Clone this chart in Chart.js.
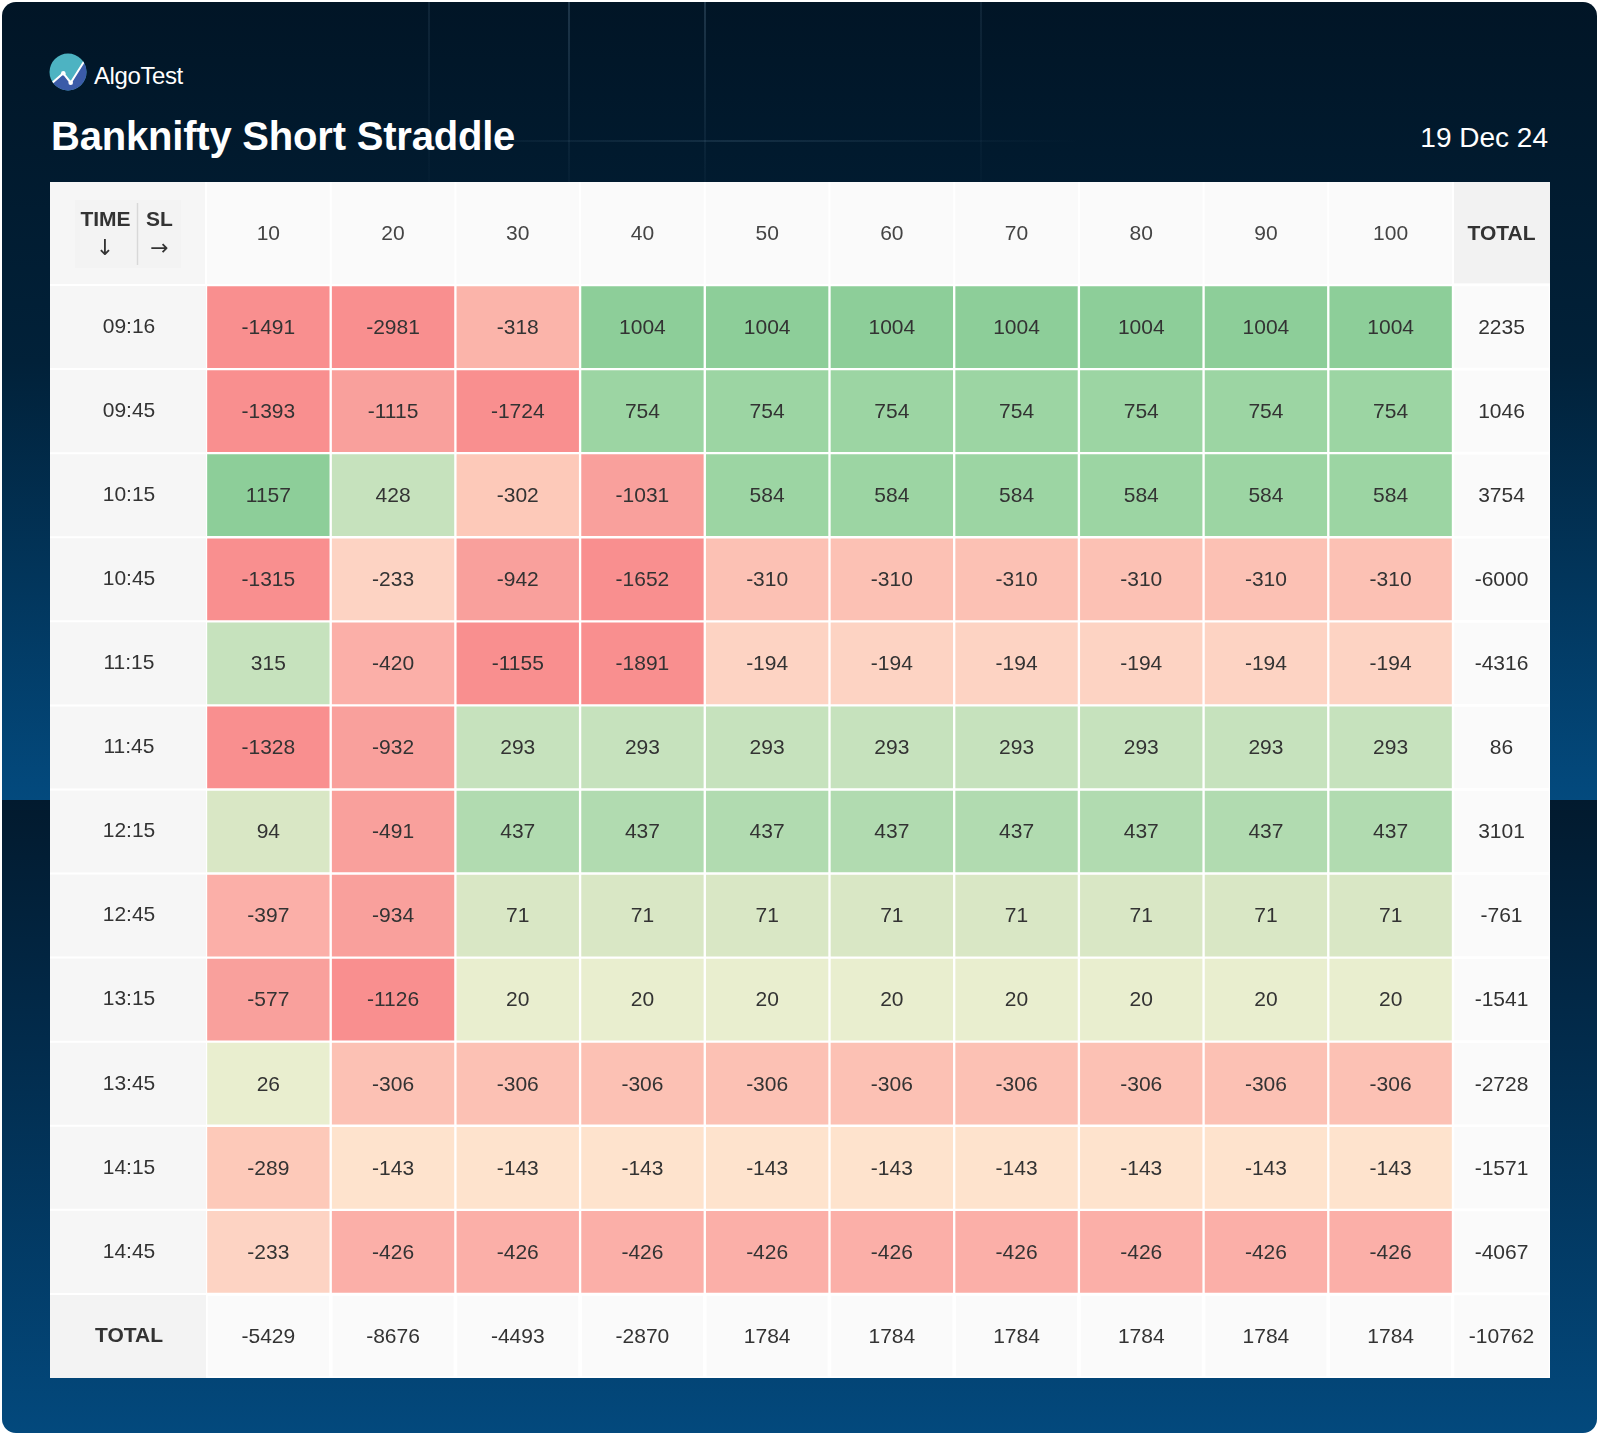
<!DOCTYPE html>
<html>
<head>
<meta charset="utf-8">
<script src="https://cdn.jsdelivr.net/npm/chart.js@4.4.1/dist/chart.umd.min.js"></script>
<style>
  html, body { margin: 0; padding: 0; background: #fff; }
  body { width: 1600px; height: 1436px; position: relative; overflow: hidden;
         font-family: "Liberation Sans", Arial, Helvetica, sans-serif; }
  #card { position: absolute; left: 2px; top: 2px; width: 1595px; height: 1431px;
          border-radius: 14px; overflow: hidden;
          background:
            linear-gradient(180deg, #011526 0%, #012139 45%, #034a7e 100%) 0 0 / 100% 798px no-repeat,
            linear-gradient(180deg, #021a2e 0%, #022c4d 40%, #03497d 100%) 0 798px / 100% 633px no-repeat; }
  .vline { position: absolute; top: 0; width: 2px; height: 190px;
           background: linear-gradient(180deg, rgba(160,200,230,0.18), rgba(160,200,230,0.02)); }
  .hline { position: absolute; height: 2px;
           background: linear-gradient(90deg, rgba(160,200,230,0), rgba(160,200,230,0.12), rgba(160,200,230,0)); }
  #logo { position: absolute; left: 48px; top: 52px; width: 40px; height: 40px; }
  #brand { position: absolute; left: 94px; top: 64px; font-size: 24px; line-height: 24px; color: #fff;
           letter-spacing: -0.4px; }
  #title { position: absolute; left: 51px; top: 116px; font-size: 40px; line-height: 40px;
           font-weight: bold; color: #fff; letter-spacing: -0.2px; }
  #date { position: absolute; right: 52px; top: 124px; font-size: 28px; line-height: 28px; color: #fff; }
  #wrap { position: absolute; left: 50px; top: 182px; width: 1500px; height: 1196px; background: #fafafa; }
</style>
</head>
<body>
<div id="card">
  <div class="vline" style="left:426px;opacity:0.5"></div>
  <div class="vline" style="left:566px"></div>
  <div class="vline" style="left:702px"></div>
  <div class="vline" style="left:978px;opacity:0.5"></div>
  <div class="hline" style="left:380px;top:138px;width:700px"></div>
</div>
<svg id="logo" viewBox="0 0 40 40">
  <defs><clipPath id="c"><circle cx="20" cy="20" r="18.5"/></clipPath></defs>
  <g clip-path="url(#c)">
    <rect x="0" y="0" width="40" height="40" fill="#4db3c2"/>
    <path d="M0,33 L3.7,31.3 L15.3,21.3 L22.7,30.7 L37,8 L40,4 L40,40 L0,40 Z" fill="#3b5ba8"/>
    <polyline points="0,33 3.7,31.3 15.3,21.3 22.7,30.7 37,8 40,4" fill="none" stroke="#fff" stroke-width="2"/>
    <circle cx="15.3" cy="21.3" r="2.3" fill="#fff"/>
    <circle cx="22.7" cy="30.7" r="2.3" fill="#fff"/>
  </g>
</svg>
<div id="brand">AlgoTest</div>
<div id="title">Banknifty Short Straddle</div>
<div id="date">19 Dec 24</div>
<div id="wrap"><canvas id="heat" width="1500" height="1196"></canvas></div>

<script>
// Filas (hora de entrada) y columnas (SL %)
const times = ['09:16', '09:45', '10:15', '10:45', '11:15', '11:45', '12:15', '12:45', '13:15', '13:45', '14:15', '14:45'];
const slLevels = [10, 20, 30, 40, 50, 60, 70, 80, 90, 100];

// P&L por hora, una lista por fila
const r0916 = [-1491, -2981, -318, 1004, 1004, 1004, 1004, 1004, 1004, 1004];
const r0945 = [-1393, -1115, -1724, 754, 754, 754, 754, 754, 754, 754];
const r1015 = [1157, 428, -302, -1031, 584, 584, 584, 584, 584, 584];
const r1045 = [-1315, -233, -942, -1652, -310, -310, -310, -310, -310, -310];
const r1115 = [315, -420, -1155, -1891, -194, -194, -194, -194, -194, -194];
const r1145 = [-1328, -932, 293, 293, 293, 293, 293, 293, 293, 293];
const r1215 = [94, -491, 437, 437, 437, 437, 437, 437, 437, 437];
const r1245 = [-397, -934, 71, 71, 71, 71, 71, 71, 71, 71];
const r1315 = [-577, -1126, 20, 20, 20, 20, 20, 20, 20, 20];
const r1345 = [26, -306, -306, -306, -306, -306, -306, -306, -306, -306];
const r1415 = [-289, -143, -143, -143, -143, -143, -143, -143, -143, -143];
const r1445 = [-233, -426, -426, -426, -426, -426, -426, -426, -426, -426];
const pnlRows = [r0916, r0945, r1015, r1045, r1115, r1145, r1215, r1245, r1315, r1345, r1415, r1445];

// Totales
const rowTotals = [2235, 1046, 3754, -6000, -4316, 86, 3101, -761, -1541, -2728, -1571, -4067];
const colTotals = [-5429, -8676, -4493, -2870, 1784, 1784, 1784, 1784, 1784, 1784];
const grandTotal = -10762;

const totalLabel = 'TOTAL';
const rowLabels = times.concat([totalLabel]);
const headerLabels = slLevels.map(String).concat([totalLabel]);

// ancho relativo de la columna TOTAL
const TOTAL_W = 0.778;
const FONT = '"Liberation Sans", Arial, Helvetica, sans-serif';

// escala de colores (rojo = pérdida, verde = ganancia)
function cellColor(v) {
    if (v <= -1120) return '#f98f8f';
    if (v <= -450) return '#f9a09c';
    if (v <= -390) return '#fbafa8';
    if (v <= -315) return '#fbb4aa';
    if (v <= -304) return '#fcc1b4';
    if (v <= -250) return '#fdc9b9';
    if (v <= -180) return '#fdd3c3';
    if (v < 0) return '#fee3cd';
    if (v <= 30) return '#e9eecf';
    if (v <= 100) return '#d9e7c5';
    if (v <= 430) return '#c6e2bd';
    if (v <= 500) return '#b1dbb0';
    if (v <= 800) return '#9cd5a3';
    return '#8dce99';
}

const clear = 'rgba(0,0,0,0)';

let datasets = slLevels.map((sl, j) => ({
    label: 'SL ' + sl,
    data: rowLabels.map(() => [j, j + 1]),
    values: pnlRows.map(r => r[j]).concat([colTotals[j]]),
    backgroundColor: pnlRows.map(r => cellColor(r[j])).concat([clear]),
    borderColor: '#ffffff',
    borderWidth: 1.5
}));
datasets.push({
    label: totalLabel,
    data: rowLabels.map(() => [10, 10 + TOTAL_W]),
    values: rowTotals.concat([grandTotal]),
    backgroundColor: clear,
    borderColor: '#ffffff',
    borderWidth: 1
});

// Fondo de la tabla: encabezados, columna de horas, caja TIME/SL
const tablaFondo = {
    id: 'tablaFondo',
    beforeDraw(chart) {
        const ctx = chart.ctx;
        const a = chart.chartArea;
        const xs = chart.scales.x;
        ctx.save();
        ctx.fillStyle = '#fafafa';
        ctx.fillRect(0, 0, chart.width, chart.height);
        // columna de horas
        ctx.fillStyle = '#f6f6f6';
        ctx.fillRect(0, 0, a.left, chart.height);
        // celda TOTAL de la fila total
        const rowH = (a.bottom - a.top) / rowLabels.length;
        ctx.fillStyle = '#f3f3f3';
        ctx.fillRect(0, a.bottom - rowH, a.left, rowH);
        // encabezado TOTAL
        const xt = xs.getPixelForValue(10);
        ctx.fillStyle = '#f2f2f2';
        ctx.fillRect(xt, 0, chart.width - xt, a.top - 2);
        // separadores blancos
        ctx.strokeStyle = '#ffffff';
        ctx.lineWidth = 2;
        ctx.beginPath();
        for (let j = 0; j <= 10; j++) {
            const x = xs.getPixelForValue(j);
            ctx.moveTo(x, 0); ctx.lineTo(x, a.top);
        }
        for (let i = 1; i < rowLabels.length; i++) {
            const y = a.top + i * rowH;
            ctx.moveTo(0, y); ctx.lineTo(a.left, y);
        }
        ctx.moveTo(0, a.top); ctx.lineTo(chart.width, a.top);
        ctx.stroke();
        // caja TIME / SL
        ctx.fillStyle = '#f3f3f3';
        ctx.fillRect(25, 18, 106, 68);
        ctx.strokeStyle = '#d8d8d8';
        ctx.lineWidth = 1.5;
        ctx.beginPath();
        ctx.moveTo(87.5, 21); ctx.lineTo(87.5, 83);
        ctx.stroke();
        ctx.fillStyle = '#333';
        ctx.textAlign = 'center';
        ctx.textBaseline = 'alphabetic';
        ctx.font = 'bold 21px ' + FONT;
        ctx.fillText('TIME', 55.5, 44);
        ctx.fillText('SL', 109.5, 44);
        ctx.font = '22px "DejaVu Sans", ' + FONT;
        ctx.textBaseline = 'middle';
        ctx.fillText('\u2193', 55, 67);
        ctx.fillText('\u2192', 109.5, 67);
        ctx.restore();
    }
};

// Valores dentro de cada celda
const etiquetas = {
    id: 'etiquetas',
    afterDatasetsDraw(chart) {
        const ctx = chart.ctx;
        ctx.save();
        ctx.font = '21px ' + FONT;
        ctx.fillStyle = '#333';
        ctx.textAlign = 'center';
        ctx.textBaseline = 'middle';
        chart.data.datasets.forEach((ds, i) => {
            chart.getDatasetMeta(i).data.forEach((bar, r) => {
                const p = bar.getProps(['x', 'base', 'y'], true);
                ctx.fillText(String(ds.values[r]), (p.x + p.base) / 2, p.y + 1);
            });
        });
        ctx.restore();
    }
};

function sinPadding(scale) {
    scale.paddingLeft = 0;
    scale.paddingRight = 0;
    scale.paddingTop = 0;
    scale.paddingBottom = 0;
}

new Chart(document.getElementById('heat'), {
    type: 'bar',
    data: { labels: rowLabels, datasets: datasets },
    options: {
        indexAxis: 'y',
        responsive: false,
        animation: false,
        layout: { padding: 0 },
        datasets: {
            bar: { grouped: false, barPercentage: 1, categoryPercentage: 1, borderSkipped: false }
        },
        plugins: { legend: { display: false }, tooltip: { enabled: false } },
        scales: {
            x: {
                type: 'linear',
                position: 'top',
                min: 0,
                max: 10 + TOTAL_W,
                grid: { display: false, drawTicks: false },
                border: { display: false },
                afterBuildTicks: (scale) => {
                    scale.ticks = headerLabels.map((l, j) => ({ value: j < 10 ? j + 0.5 : 10 + TOTAL_W / 2 }));
                },
                afterFit: (scale) => { scale.height = 103; sinPadding(scale); },
                ticks: {
                    autoSkip: false,
                    maxRotation: 0,
                    padding: 38,
                    color: (c) => c.index === 10 ? '#333' : '#444',
                    font: (c) => ({ family: FONT, size: 21, weight: c.index === 10 ? 'bold' : 'normal' }),
                    callback: (v, i) => headerLabels[i]
                }
            },
            y: {
                type: 'category',
                position: 'left',
                grid: { display: false, drawTicks: false },
                border: { display: false },
                afterFit: (scale) => { scale.width = 156; sinPadding(scale); },
                ticks: {
                    crossAlign: 'center',
                    padding: 43,
                    color: '#333',
                    font: (c) => ({ family: FONT, size: 21, weight: c.index === 12 ? 'bold' : 'normal' })
                }
            }
        }
    },
    plugins: [tablaFondo, etiquetas]
});
</script>
</body>
</html>
